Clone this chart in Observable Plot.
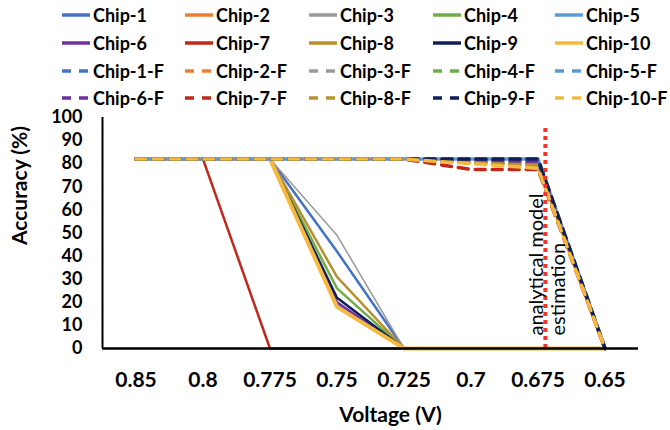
<!DOCTYPE html>
<html>
<head>
<meta charset="utf-8">
<script src="https://cdn.jsdelivr.net/npm/d3@7"></script>
<script src="https://cdn.jsdelivr.net/npm/@observablehq/plot@0.6"></script>
<style>
  body { margin: 0; background: #fff; font-family: Lato, "Open Sans", sans-serif; }
  #legend { position: relative; width: 670px; height: 100px; }
  .item { position: absolute; display: flex; align-items: center; height: 22px; font-weight: bold; font-size: 18px; color: #000; white-space: nowrap; }
  .item svg { margin-right: 3px; }
  #chart svg { overflow: visible; display: block; }
</style>
</head>
<body>
<div id="legend"></div>
<div id="chart"></div>
<script>
// Category labels (x axis)
const voltages = ["0.85", "0.8", "0.775", "0.75", "0.725", "0.7", "0.675", "0.65"];
const yTicks = [0, 10, 20, 30, 40, 50, 60, 70, 80, 90, 100];

// Solid series (accuracy %)
const chip1  = [82, 82, 82, 42, 0, 0, 0, 0];
const chip2  = [82, 82, 82, 18, 0, 0, 0, 0];
const chip3  = [82, 82, 82, 49, 0, 0, 0, 0];
const chip4  = [82, 82, 82, 26, 0, 0, 0, 0];
const chip5  = [82, 82, 82, 19, 0, 0, 0, 0];
const chip6  = [82, 82, 82, 20, 0, 0, 0, 0];
const chip7  = [82, 82, 0, 0, 0, 0, 0, 0];
const chip8  = [82, 82, 82, 31, 0, 0, 0, 0];
const chip9  = [82, 82, 82, 22, 0, 0, 0, 0];
const chip10 = [82, 82, 82, 18, 0, 0, 0, 0];

// Dashed "-F" series
const chip1F  = [82, 82, 82, 82, 82, 82, 82, 0];
const chip2F  = [82, 82, 82, 82, 82, 80.5, 80, 0];
const chip3F  = [82, 82, 82, 82, 82, 82, 82, 0];
const chip4F  = [82, 82, 82, 82, 82, 81, 80, 0];
const chip5F  = [82, 82, 82, 82, 82, 82, 82, 0];
const chip6F  = [82, 82, 82, 82, 82, 81.5, 81, 0];
const chip7F  = [82, 82, 82, 82, 82, 77.5, 77.5, 0];
const chip8F  = [82, 82, 82, 82, 82, 80.5, 79, 0];
const chip9F  = [82, 82, 82, 82, 82, 82, 82, 0];
const chip10F = [82, 82, 82, 82, 82, 80, 78, 0];

const names  = ["Chip-1", "Chip-2", "Chip-3", "Chip-4", "Chip-5", "Chip-6", "Chip-7", "Chip-8", "Chip-9", "Chip-10"];
const colors = ["#4472C4", "#ED7D31", "#999999", "#70AD47", "#5B9BD5", "#7030A0", "#C0281C", "#B8912F", "#0E1F5B", "#F5B940"];
const solidWidths = [2.5, 2.5, 1.5, 2.5, 2.5, 2.5, 2.5, 2.5, 2.5, 4];

const solidSeries = [chip1, chip2, chip3, chip4, chip5, chip6, chip7, chip8, chip9, chip10];
const dashSeries  = [chip1F, chip2F, chip3F, chip4F, chip5F, chip6F, chip7F, chip8F, chip9F, chip10F];

// annotation: analytical model estimation position (slightly right of 0.675)
const estimateAt = 6.11;
const estimateTop = 96;

const dashPattern = "10,7";

// ---------- legend ----------
const legend = document.getElementById("legend");
const colX = [62, 185, 309, 433, 555];
const rowY = [15, 42.5, 70.5, 98];
function addItem(label, color, dashed, col, row) {
  const div = document.createElement("div");
  div.className = "item";
  div.style.left = colX[col] + "px";
  div.style.top = (rowY[row] - 11) + "px";
  const ns = "http://www.w3.org/2000/svg";
  const s = document.createElementNS(ns, "svg");
  s.setAttribute("width", 28); s.setAttribute("height", 8);
  const l = document.createElementNS(ns, "line");
  l.setAttribute("x1", 0); l.setAttribute("x2", 28); l.setAttribute("y1", 4); l.setAttribute("y2", 4);
  l.setAttribute("stroke", color); l.setAttribute("stroke-width", 3.5);
  if (dashed) l.setAttribute("stroke-dasharray", "9,8");
  s.appendChild(l);
  div.appendChild(s);
  const t = document.createElement("span");
  t.textContent = label;
  div.appendChild(t);
  legend.appendChild(div);
}
names.forEach((n, i) => addItem(n, colors[i], false, i % 5, Math.floor(i / 5)));
names.forEach((n, i) => addItem(n + "-F", colors[i], true, i % 5, 2 + Math.floor(i / 5)));

// ---------- chart ----------
const idx = d3.range(voltages.length);
const toRows = arr => arr.map((v, i) => ({x: i, y: v}));

const marks = [];
solidSeries.forEach((s, k) => {
  marks.push(Plot.line(toRows(s), {x: "x", y: "y", stroke: colors[k], strokeWidth: solidWidths[k], strokeLinejoin: "round"}));
});
dashSeries.forEach((s, k) => {
  marks.push(Plot.line(toRows(s), {
    x: "x", y: "y", stroke: colors[k], strokeWidth: 3.5,
    strokeDasharray: dashPattern, strokeDashoffset: k === 4 ? 8.5 : 0
  }));
});

const chart = Plot.plot({
  width: 670,
  height: 330,
  marginLeft: 102,
  marginRight: 32,
  marginTop: 17,
  marginBottom: 82,
  style: {fontFamily: "Lato, 'Open Sans', sans-serif", background: "#fff", overflow: "visible"},
  x: {type: "linear", domain: [-0.5, voltages.length - 0.5]},
  y: {domain: [0, 100]},
  marks: [
    Plot.axisX(idx, {tickSize: 0, tickPadding: 24, tickFormat: i => voltages[i], fontSize: 21, fontWeight: "bold", label: null}),
    Plot.axisY(yTicks, {tickSize: 0, tickPadding: 20, fontSize: 18, fontWeight: "bold", label: null}),
    ...marks,
    Plot.ruleX([estimateAt], {y1: 0, y2: estimateTop, stroke: "#F0352A", strokeWidth: 4, strokeDasharray: "4,4"}),
    Plot.ruleX([-0.5], {y1: 0, y2: 100, stroke: "#000", strokeWidth: 2}),
    Plot.ruleY([0], {stroke: "#000", strokeWidth: 2.5}),
    Plot.text(["analytical model"], {x: () => estimateAt, frameAnchor: "bottom", lineAnchor: "middle", dy: -13, dx: -9, rotate: -90, textAnchor: "start", fontSize: 20, fill: "#000"}),
    Plot.text(["estimation"], {x: () => estimateAt, frameAnchor: "bottom", lineAnchor: "middle", dy: -13, dx: 13, rotate: -90, textAnchor: "start", fontSize: 20, fill: "#000"}),
    Plot.text(["Accuracy (%)"], {frameAnchor: "left", textAnchor: "middle", lineAnchor: "middle", dx: -82, dy: -47.5, rotate: -90, fontSize: 21, fontWeight: "bold", fill: "#000"}),
    Plot.text(["Voltage (V)"], {frameAnchor: "bottom", textAnchor: "middle", lineAnchor: "middle", dx: 20, dy: 67, fontSize: 21, fontWeight: "bold", fill: "#000"})
  ]
});
document.getElementById("chart").appendChild(chart);
</script>
</body>
</html>
